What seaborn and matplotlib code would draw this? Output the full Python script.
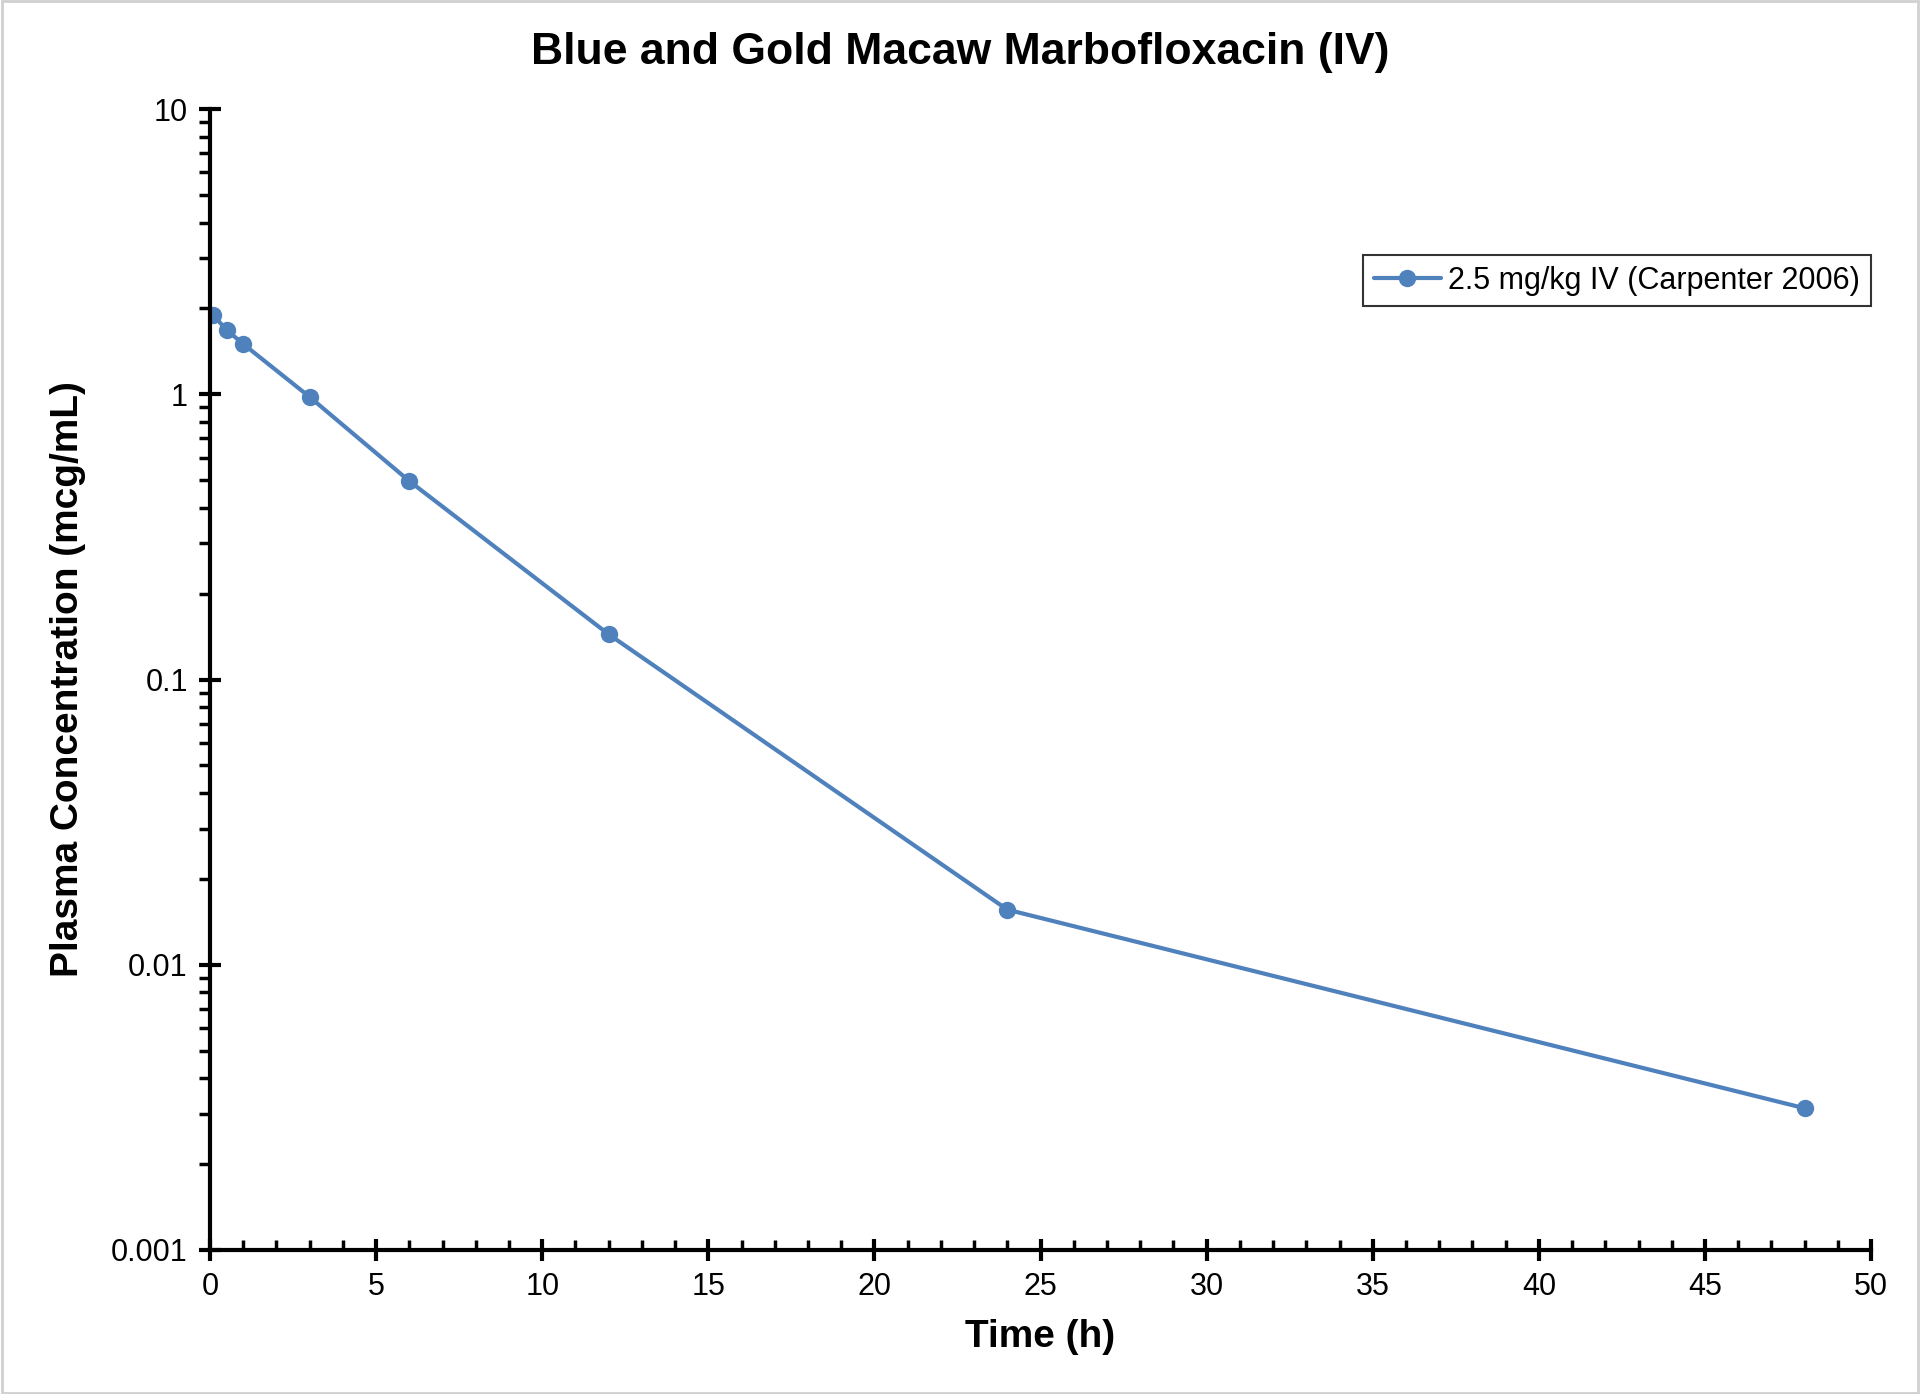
import matplotlib
matplotlib.use("Agg")
import matplotlib.pyplot as plt
import matplotlib.ticker as mticker
import numpy as np
import pandas as pd
import seaborn as sns
from matplotlib.patches import Rectangle

# data
time_h = [0.083, 0.5, 1, 3, 6, 12, 24, 48]
conc_mcg_ml = [1.90, 1.68, 1.50, 0.978, 0.496, 0.144, 0.0156, 0.00314]
series_label = "2.5 mg/kg IV (Carpenter 2006)"
y_ticks = [0.001, 0.01, 0.1, 1, 10]
x_ticks = [0, 5, 10, 15, 20, 25, 30, 35, 40, 45, 50]

df = pd.DataFrame({"Time": time_h, "Conc": conc_mcg_ml, "Study": series_label})

sns.set_style("white")
plt.rcParams["font.family"] = ["Liberation Sans", "DejaVu Sans"]
plt.rcParams["text.color"] = "black"
plt.rcParams["axes.labelcolor"] = "black"

fig = plt.figure(figsize=(19.2, 13.94), dpi=100)
ax = fig.add_axes([0.1094, 0.1033, 0.8651, 0.8185])

sns.lineplot(data=df, x="Time", y="Conc", hue="Study", palette=["#4F81BD"],
             marker="o", markersize=12.5, markeredgewidth=0, linewidth=3, ax=ax)

ax.set_yscale("log")
ax.set_ylim(0.001, 10)
ax.set_xlim(0, 50)
ax.set_xticks(x_ticks)
ax.set_yticks(y_ticks)
ax.yaxis.set_major_formatter(mticker.FuncFormatter(lambda v, p: f"{v:g}"))
ax.xaxis.set_minor_locator(mticker.MultipleLocator(1))
ax.yaxis.set_minor_locator(mticker.LogLocator(base=10, subs=np.arange(2, 10)))
ax.yaxis.set_minor_formatter(mticker.NullFormatter())

for s in ["top", "right"]:
    ax.spines[s].set_visible(False)
for s in ["left", "bottom"]:
    ax.spines[s].set_linewidth(3)
    ax.spines[s].set_color("black")

ax.tick_params(axis="both", which="both", bottom=True, left=True, colors="black")
ax.tick_params(axis="both", which="major", direction="inout", length=16, width=3,
               labelsize=22, pad=8)
ax.tick_params(axis="x", which="minor", direction="in", length=7, width=2.5)
ax.tick_params(axis="y", which="minor", direction="out", length=8, width=2.5)

ax.set_xlabel("Time (h)", fontsize=28, fontweight="bold", labelpad=12)
ax.set_ylabel("Plasma Concentration (mcg/mL)", fontsize=28, fontweight="bold", labelpad=18)
fig.suptitle("Blue and Gold Macaw Marbofloxacin (IV)", fontsize=32, fontweight="bold",
             x=0.5, y=0.977)

leg = ax.legend(loc="upper right", bbox_to_anchor=(1.0, 0.872), fontsize=22, frameon=True,
                fancybox=False, handlelength=2.2, borderpad=0.35, handletextpad=0.25,
                borderaxespad=0)
leg.get_frame().set_edgecolor("black")
leg.get_frame().set_linewidth(1.5)

fig.patches.append(Rectangle((0.001, 0.001), 0.998, 0.998, transform=fig.transFigure,
                             fill=False, edgecolor="#d0d0d0", linewidth=2))

fig.savefig("out.png", dpi=100)
